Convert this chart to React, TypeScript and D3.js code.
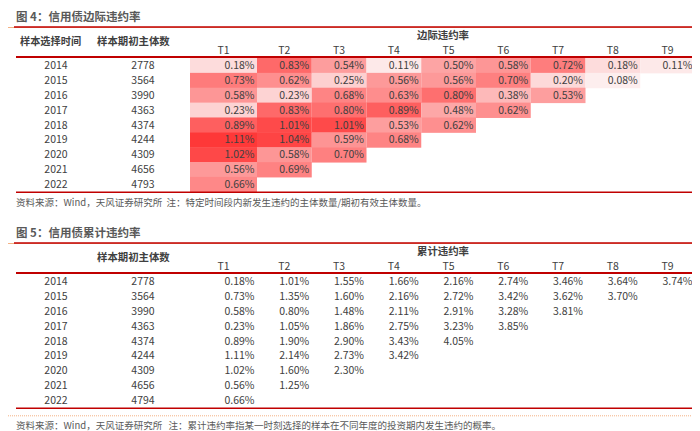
import React from 'react'
import * as d3 from 'd3'

const years = [2014, 2015, 2016, 2017, 2018, 2019, 2020, 2021, 2022]
const periods = ['T1', 'T2', 'T3', 'T4', 'T5', 'T6', 'T7', 'T8', 'T9']
const counts4 = [2778, 3564, 3990, 4363, 4374, 4244, 4309, 4656, 4793]
const counts5 = [2778, 3564, 3990, 4363, 4374, 4244, 4309, 4656, 4794]

// 边际违约率 (%)
const marginal = [
  [0.18, 0.83, 0.54, 0.11, 0.5, 0.58, 0.72, 0.18, 0.11],
  [0.73, 0.62, 0.25, 0.56, 0.56, 0.7, 0.2, 0.08],
  [0.58, 0.23, 0.68, 0.63, 0.8, 0.38, 0.53],
  [0.23, 0.83, 0.8, 0.89, 0.48, 0.62],
  [0.89, 1.01, 1.01, 0.53, 0.62],
  [1.11, 1.04, 0.59, 0.68],
  [1.02, 0.58, 0.7],
  [0.56, 0.69],
  [0.66],
]

// 累计违约率 (%)
const cumulative = [
  [0.18, 1.01, 1.55, 1.66, 2.16, 2.74, 3.46, 3.64, 3.74],
  [0.73, 1.35, 1.6, 2.16, 2.72, 3.42, 3.62, 3.7],
  [0.58, 0.8, 1.48, 2.11, 2.91, 3.28, 3.81],
  [0.23, 1.05, 1.86, 2.75, 3.23, 3.85],
  [0.89, 1.9, 2.9, 3.43, 4.05],
  [1.11, 2.14, 2.73, 3.42],
  [1.02, 1.6, 2.3],
  [0.56, 1.25],
  [0.66],
]

const W = 700
const H = 431
const FONT = '"Noto Sans CJK SC", "Noto Sans", sans-serif'
const TEXT = '#404040'
const RED = '#c00000'
const ORANGE = '#f4b183'
const FS = 10.5

const col = d3.scaleBand<string>().domain(periods).range([194.25, 687])
const cellX0 = (i: number) => (i === 0 ? 182 : col(periods[i])!)
const cellX1 = (i: number) => col(periods[i])! + col.bandwidth()
const yearX = 48
const countX = 135

const allMarginal = marginal.flat()
const heat = d3
  .scaleLinear<string>()
  .domain([d3.min(allMarginal)!, d3.max(allMarginal)!])
  .range(['#fdeeee', '#fe3838'])
  .interpolate(d3.interpolateRgb)

const fmt = (v: number) => `${v.toFixed(2)}%`

type TableProps = {
  top: number
  title: string
  group: string
  showYearHeader: boolean
  counts: number[]
  values: number[][]
  colored: boolean
  note: string
  dotted: boolean
}

const Table = ({ top, title, group, showYearHeader, counts, values, colored, note, dotted }: TableProps) => {
  const rowTop = top + 50
  const rows = d3
    .scaleBand<number>()
    .domain(years)
    .range([rowTop, rowTop + 133.8])
  const bottom = rowTop + 133.8
  return (
    <g>
      <text x={8} y={top + 9} dy="0.35em" fontSize={11.5} fontWeight="bold" fill="#595959">
        {title}
      </text>
      <line x1={0} x2={W} y1={top + 19.5} y2={top + 19.5} stroke={ORANGE} strokeWidth={1} />
      <line x1={6} x2={687} y1={top + 19} y2={top + 19} stroke={RED} strokeWidth={1.5} />

      {showYearHeader && (
        <text x={12} y={top + 33} dy="0.35em" fontSize={10.2} fontWeight="bold" fill={TEXT}>
          样本选择时间
        </text>
      )}
      <text x={89} y={top + 33} dy="0.35em" fontSize={10.4} fontWeight="bold" fill={TEXT}>
        样本期初主体数
      </text>
      <text x={435} y={top + 27} dy="0.35em" fontSize={10.4} fontWeight="bold" textAnchor="middle" fill={TEXT}>
        {group}
      </text>
      {periods.map((p, i) => (
        <text
          key={p}
          x={(cellX0(i) + cellX1(i)) / 2}
          y={top + 42}
          dy="0.35em"
          fontSize={FS}
          textAnchor="middle"
          fill={TEXT}
        >
          {p}
        </text>
      ))}

      {years.map((yr, r) => {
        const y = rows(yr)!
        const cy = y + rows.bandwidth() / 2
        return (
          <g key={yr}>
            <text x={yearX} y={cy} dy="0.35em" fontSize={FS} textAnchor="middle" fill={TEXT}>
              {yr}
            </text>
            <text x={countX} y={cy} dy="0.35em" fontSize={FS} textAnchor="middle" fill={TEXT}>
              {counts[r]}
            </text>
            {values[r].map((v, i) => (
              <g key={i}>
                {colored && (
                  <rect
                    x={cellX0(i)}
                    y={y}
                    width={cellX1(i) - cellX0(i)}
                    height={rows.bandwidth() + 0.5}
                    fill={heat(v)}
                  />
                )}
                <text x={cellX1(i) - 2.5} y={cy} dy="0.35em" fontSize={FS} textAnchor="end" fill={TEXT}>
                  {fmt(v)}
                </text>
              </g>
            ))}
          </g>
        )
      })}

      <line x1={8} x2={687} y1={top + 49} y2={top + 49} stroke={RED} strokeWidth={2} />
      <line x1={8} x2={687} y1={bottom + 0.5} y2={bottom + 0.5} stroke={RED} strokeWidth={1.5} />
      {dotted ? (
        <line
          x1={0}
          x2={W}
          y1={bottom + 8}
          y2={bottom + 8}
          stroke={ORANGE}
          strokeWidth={1}
          strokeDasharray="1 1"
        />
      ) : (
        <line x1={687} x2={W} y1={bottom + 0.5} y2={bottom + 0.5} stroke={ORANGE} strokeWidth={1} />
      )}
      <text
        x={8}
        y={bottom + (dotted ? 18 : 11)}
        dy="0.35em"
        fontSize={9.5}
        fill="#595959"
        style={{ whiteSpace: 'pre' }}
      >
        {note}
      </text>
    </g>
  )
}

export default function App() {
  return (
    <svg width={W} height={H} style={{ display: 'block', fontFamily: FONT, background: '#fff' }}>
      <Table
        top={0}
        title="图 4：信用债边际违约率"
        group="边际违约率"
        showYearHeader
        counts={counts4}
        values={marginal}
        colored
        note="资料来源：Wind，天风证券研究所  注：特定时间段内新发生违约的主体数量/期初有效主体数量。"
        dotted={false}
      />
      <Table
        top={216}
        title="图 5：信用债累计违约率"
        group="累计违约率"
        showYearHeader={false}
        counts={counts5}
        values={cumulative}
        colored={false}
        note="资料来源：Wind，天风证券研究所   注：累计违约率指某一时刻选择的样本在不同年度的投资期内发生违约的概率。"
        dotted
      />
    </svg>
  )
}
